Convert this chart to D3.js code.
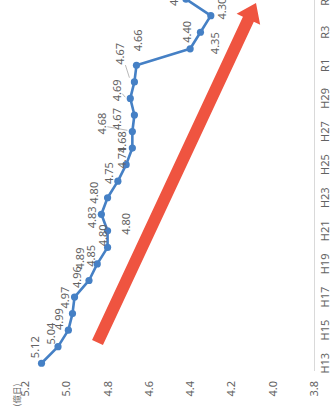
<!DOCTYPE html>
<html>
<head>
<meta charset="utf-8">
<script src="https://cdn.jsdelivr.net/npm/d3@7"></script>
<style>
  html, body { margin: 0; padding: 0; background: #fff; overflow: hidden; }
  svg { display: block; }
</style>
</head>
<body>
<svg id="chart" width="333" height="414"></svg>
<script>
// Fiscal years (Heisei / Reiwa)
const years = ["H13","H14","H15","H16","H17","H18","H19","H20","H21","H22","H23","H24",
               "H25","H26","H27","H28","H29","H30","R1","R2","R3","R4","R5"];
// Series values (億日)
const values = [5.12,5.04,4.99,4.97,4.96,4.89,4.85,4.80,4.80,4.83,4.80,4.75,
                4.71,4.68,4.68,4.67,4.69,4.67,4.66,4.40,4.35,4.30,4.42];
// Axis tick labels
const yearTicks = years.filter((d, i) => i % 2 === 0);
const valueTicks = [3.8, 4.0, 4.2, 4.4, 4.6, 4.8, 5.0, 5.2];
const unitLabel = "(億日)";

// Label placement relative to each marker (chart frame, px)
const labelShift = [[16,-7],[13,-8],[11,-10],[16,-8],[20,2],[22,-9],[8,-7],[12,-5],[7,18],[-3,-10],
                    [5,-14],[8,-9],[7,-5],[6,-11],[8,-31],[-4,-18],[8,-14],[28,-15],[25,1],[17,-4],
                    [-11,14],[7,11],[4,-13]];
const leaderIdx = [14, 16, 17];

// The chart is laid out in a 414 x 333 frame and turned a quarter turn counter-clockwise.
const FW = 414, FH = 333;
const svg = d3.select("#chart");
const g = svg.append("g").attr("transform", `translate(0,${FW}) rotate(-90)`);

const font = "'Noto Sans', 'Open Sans', sans-serif";
const textCol = "#636363";

const x = d3.scaleBand().domain(years).range([42.5, 42.5 + 16.55 * years.length]).padding(0);
const y = d3.scaleLinear().domain([3.8, 5.2]).range([314, 25]);
const cx = d => x(d) + x.bandwidth() / 2;

// Value axis
const yAxis = g.append("g").attr("transform", "translate(33,0)")
  .call(d3.axisLeft(y).tickValues(valueTicks).tickSize(0).tickPadding(0).tickFormat(d3.format(".1f")));
yAxis.select(".domain").remove();
yAxis.selectAll("text").attr("fill", textCol).style("font-family", font).style("font-size", "11px");

g.append("text").attr("x", 19).attr("y", 16).attr("text-anchor", "middle")
  .attr("dominant-baseline", "central")
  .style("font-family", "'Noto Sans CJK JP', sans-serif").style("font-size", "8.5px")
  .attr("fill", textCol).text(unitLabel);

// Category axis
const xAxis = g.append("g").attr("transform", `translate(0,${y(3.8)})`)
  .call(d3.axisBottom(x).tickValues(yearTicks).tickSize(0).tickPadding(7));
xAxis.select(".domain").attr("stroke", "#d9d9d9").attr("stroke-width", 1);
xAxis.selectAll("text").attr("fill", textCol).style("font-family", font).style("font-size", "11px");

// Trend arrow
(function () {
  const tail = [71.5, 97.5], tip = [411, 256];
  const dx = tip[0] - tail[0], dy = tip[1] - tail[1], len = Math.hypot(dx, dy);
  const u = [dx / len, dy / len], n = [-u[1], u[0]];
  const sw = 6, hw = 13, hl = 18;
  const neck = [tip[0] - hl * u[0], tip[1] - hl * u[1]];
  const p = (b, k) => [b[0] + k * n[0], b[1] + k * n[1]];
  const pts = [p(tail, sw), p(neck, sw), p(neck, hw), tip, p(neck, -hw), p(neck, -sw), p(tail, -sw)];
  g.append("polygon").attr("points", pts.map(q => q.join(",")).join(" ")).attr("fill", "#ef5440");
})();

// Line and markers
const lineCol = "#4580c5";
g.append("path").datum(values)
  .attr("fill", "none").attr("stroke", lineCol).attr("stroke-width", 2.6).attr("stroke-linejoin", "round")
  .attr("d", d3.line().x((d, i) => cx(years[i])).y(d => y(d)));
g.selectAll("circle.pt").data(values).join("circle").attr("class", "pt")
  .attr("cx", (d, i) => cx(years[i])).attr("cy", d => y(d)).attr("r", 3.6).attr("fill", lineCol);

// Leader lines
g.selectAll("line.leader").data(leaderIdx).join("line").attr("class", "leader")
  .attr("x1", i => cx(years[i]) + labelShift[i][0] * 0.15)
  .attr("y1", i => y(values[i]) - 5)
  .attr("x2", i => cx(years[i]) + labelShift[i][0] * 0.6)
  .attr("y2", i => y(values[i]) + labelShift[i][1] + 6)
  .attr("stroke", "#a6a6a6").attr("stroke-width", 0.8);

// Data labels
g.selectAll("text.val").data(values).join("text").attr("class", "val")
  .attr("x", (d, i) => cx(years[i]) + labelShift[i][0])
  .attr("y", (d, i) => y(d) + labelShift[i][1])
  .attr("text-anchor", "middle").attr("dominant-baseline", "central")
  .style("font-family", font).style("font-size", "11px").attr("fill", textCol)
  .text(d => d3.format(".2f")(d));
</script>
</body>
</html>
